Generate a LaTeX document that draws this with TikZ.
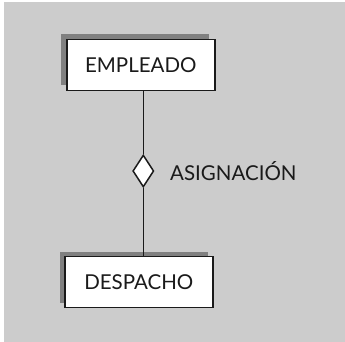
\documentclass[tikz,border=0pt]{standalone}
\usepackage{fontspec}
\setmainfont{Lato}
\usetikzlibrary{shapes.geometric}
\definecolor{bg}{HTML}{CCCCCC}
\definecolor{shade}{HTML}{808080}
\definecolor{ink}{HTML}{1A1A1A}
\tikzset{
  entity/.style={draw=ink, line width=1.5pt, fill=white, minimum width=148pt, minimum height=51pt, inner sep=0pt, font=\fontsize{20.5}{24}\selectfont, text=ink},
  shadowbox/.style={fill=shade, draw=none, minimum width=148pt, minimum height=51pt, inner sep=0pt},
  relation/.style={diamond, draw=ink, line width=1.5pt, fill=white, minimum width=21pt, minimum height=32pt, inner sep=0pt, aspect=0.65},
  conn/.style={draw=ink, line width=1.6pt},
  lbl/.style={font=\fontsize{20.5}{24}\selectfont, text=ink, anchor=west, inner sep=0pt}
}
\begin{document}
\begin{tikzpicture}[x=1pt,y=-1pt]
\useasboundingbox (0,0) rectangle (345,342);
\fill[bg] (4,2) rectangle (345,342);
\node[shadowbox] (s1) at (135,59.5) {};
\node[shadowbox] (s2) at (134,277) {};
\node[entity] (emp) at (140.8,65) {EMPLEADO};
\node[entity] (des) at (138.8,282) {DESPACHO};
\node[relation] (rel) at (143.3,171) {};
\draw[conn] (emp.south -| rel.north) -- (rel.north);
\draw[conn] (rel.south) -- (des.north -| rel.south);
\node[lbl] (lab) at (170,171.5) {ASIGNACIÓN};
\end{tikzpicture}
\end{document}
